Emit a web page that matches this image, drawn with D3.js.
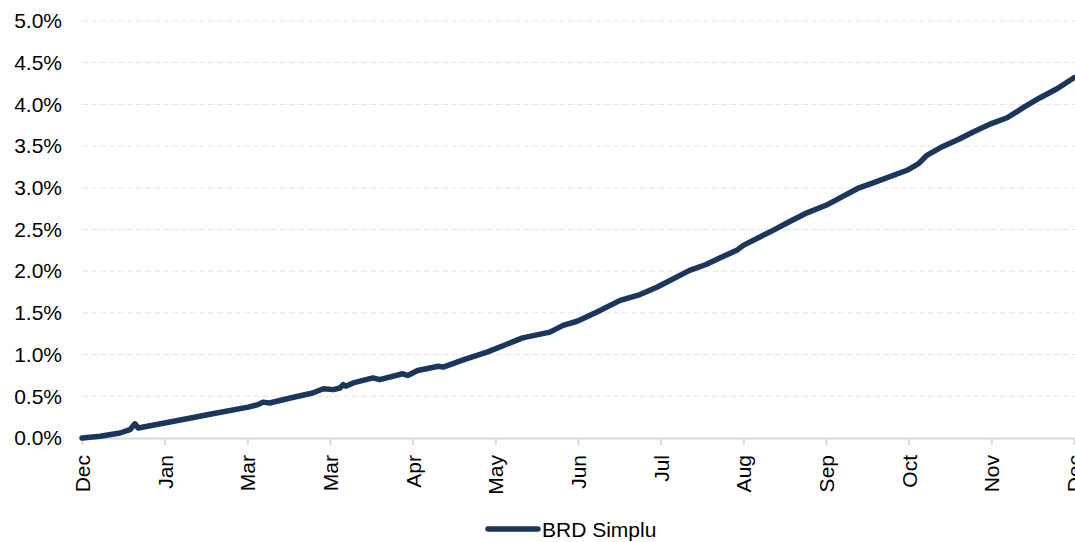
<!DOCTYPE html>
<html>
<head>
<meta charset="utf-8">
<script src="https://cdn.jsdelivr.net/npm/d3@7"></script>
<style>
  body { margin: 0; background: #fff; }
  svg { display: block; font-family: "Liberation Sans", Arial, sans-serif; }
</style>
</head>
<body>
<svg id="chart" width="1075" height="542"></svg>
<script>
// month labels along the x axis (as shown on the original)
const monthLabels = ["Dec", "Jan", "Mar", "Mar", "Apr", "May", "Jun", "Jul", "Aug", "Sep", "Oct", "Nov", "Dec"];
const yTicks = [0, 0.5, 1, 1.5, 2, 2.5, 3, 3.5, 4, 4.5, 5];

// position in months from start, cumulative return in %
const monthPos = [0, 0.22, 0.46, 0.58, 0.64, 0.68, 1.0, 1.58, 2.01, 2.13, 2.19, 2.27, 2.52, 2.79, 2.92, 3.04, 3.12, 3.16, 3.19, 3.28, 3.52, 3.6, 3.88, 3.94, 4.06, 4.21, 4.31, 4.37, 4.62, 4.9, 5.1, 5.33, 5.66, 5.82, 5.99, 6.23, 6.51, 6.75, 6.96, 7.35, 7.55, 7.72, 7.92, 8.0, 8.36, 8.55, 8.77, 9.0, 9.17, 9.4, 9.57, 9.98, 10.12, 10.22, 10.38, 10.6, 10.78, 11.0, 11.19, 11.4, 11.59, 11.8, 12.0];
const returnPct = [0, 0.02, 0.06, 0.10, 0.17, 0.12, 0.18, 0.29, 0.37, 0.40, 0.43, 0.42, 0.48, 0.54, 0.59, 0.58, 0.60, 0.64, 0.62, 0.66, 0.72, 0.70, 0.77, 0.75, 0.81, 0.84, 0.86, 0.85, 0.94, 1.03, 1.11, 1.20, 1.27, 1.35, 1.40, 1.51, 1.65, 1.72, 1.81, 2.01, 2.08, 2.16, 2.25, 2.31, 2.49, 2.59, 2.70, 2.79, 2.88, 3.00, 3.06, 3.21, 3.29, 3.39, 3.48, 3.58, 3.67, 3.77, 3.84, 3.97, 4.08, 4.19, 4.32];

const seriesName = "BRD Simplu";

const svg = d3.select("#chart");
const margin = { left: 82, right: 1074, top: 21, bottom: 438 };

const x = d3.scaleLinear().domain([0, monthLabels.length - 1]).range([margin.left, margin.right]);
const y = d3.scaleLinear().domain([0, 5]).range([margin.bottom, margin.top]);

// dashed gridlines
svg.append("g")
  .selectAll("line")
  .data(yTicks.filter(d => d > 0))
  .join("line")
  .attr("x1", margin.left)
  .attr("x2", margin.right + 1)
  .attr("y1", d => y(d))
  .attr("y2", d => y(d))
  .attr("stroke", "#e6e6e6")
  .attr("stroke-width", 1)
  .attr("stroke-dasharray", "6,3");

// y axis labels
const yAxis = d3.axisLeft(y)
  .tickValues(yTicks)
  .tickFormat(d => d.toFixed(1) + "%")
  .tickSize(0)
  .tickPadding(20);

svg.append("g")
  .attr("transform", `translate(${margin.left},0)`)
  .call(yAxis)
  .call(g => g.select(".domain").remove())
  .call(g => g.selectAll("text")
    .attr("font-size", 21)
    .attr("fill", "#000")
    .attr("font-family", "Liberation Sans, Arial, sans-serif"));

// x axis
const xAxis = d3.axisBottom(x)
  .tickValues(d3.range(monthLabels.length))
  .tickFormat(i => monthLabels[i])
  .tickSizeInner(7)
  .tickSizeOuter(0)
  .tickPadding(8);

svg.append("g")
  .attr("transform", `translate(0,${margin.bottom})`)
  .call(xAxis)
  .call(g => g.select(".domain").attr("stroke", "#d9d9d9").attr("stroke-width", 2))
  .call(g => g.selectAll(".tick line").attr("stroke", "#d9d9d9").attr("stroke-width", 2))
  .call(g => g.selectAll("text")
    .attr("font-size", 21)
    .attr("fill", "#000")
    .attr("font-family", "Liberation Sans, Arial, sans-serif")
    .attr("text-anchor", "end")
    .attr("dy", "0.35em")
    .attr("transform", "rotate(-90)")
    .attr("x", -17)
    .attr("y", 0));

// the series line
const line = d3.line()
  .x((d, i) => x(monthPos[i]))
  .y(d => y(d));

svg.append("path")
  .datum(returnPct)
  .attr("d", line)
  .attr("fill", "none")
  .attr("stroke", "#1b365d")
  .attr("stroke-width", 5.5)
  .attr("stroke-linejoin", "round")
  .attr("stroke-linecap", "round");

// legend
const legend = svg.append("g").attr("transform", "translate(488,529)");
legend.append("line")
  .attr("x1", 0).attr("x2", 50)
  .attr("y1", 0).attr("y2", 0)
  .attr("stroke", "#1b365d")
  .attr("stroke-width", 5.5)
  .attr("stroke-linecap", "round");
legend.append("text")
  .attr("x", 54)
  .attr("y", 0)
  .attr("dy", "0.36em")
  .attr("font-size", 21)
  .attr("fill", "#000")
  .text(seriesName);
</script>
</body>
</html>
